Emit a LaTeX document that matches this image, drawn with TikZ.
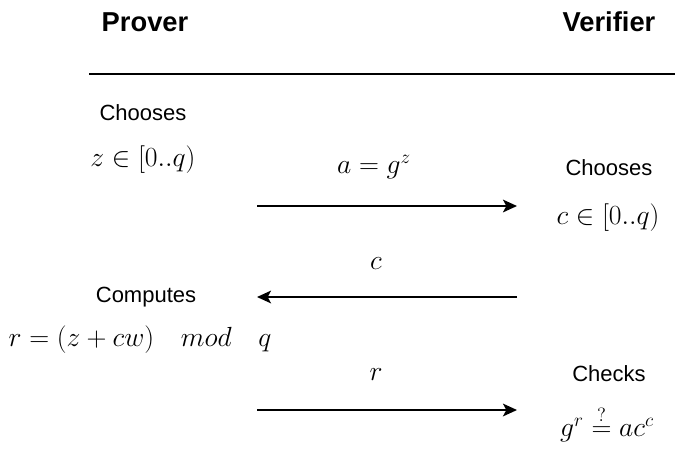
\documentclass[tikz,border=0pt]{standalone}
\usepackage{amsmath, amssymb}
\usepackage{fontspec}
\usepackage{tikz}
\usetikzlibrary{arrows.meta, positioning, calc}
\newfontfamily\arial{Liberation Sans}

\begin{document}
\begin{tikzpicture}[
  x=0.75pt, y=-0.75pt,
  every node/.style={inner sep=0pt},
  party/.style={font=\arial\bfseries\fontsize{20.5}{24}\selectfont},
  act/.style={font=\arial\fontsize{16.5}{20}\selectfont},
  expr/.style={font=\fontsize{20}{24}\selectfont},
  msg/.style={-{Stealth[length=10.5pt, width=9.5pt, inset=2.5pt]}, line width=1.5pt},
  rule/.style={line width=1.5pt}
]
  \useasboundingbox (0,0) rectangle (675,451);

  % Intestazioni
  \node[party] (prover) at (145,22) {Prover};
  \node[party] (verifier) at (609,22) {Verifier};
  \coordinate (ruleL) at (89,74);
  \coordinate (ruleR) at (675,74);
  \draw[rule] (ruleL) -- (ruleR);

  % Lato prover
  \node[act] (choosesP) at (143,113) {Chooses};
  \node[expr] (zpick) at (143,160) {$z \in [0..q)$};
  \node[act] (computes) at (146,297) {Computes};
  \node[expr] (resp) at (140,340) {$r = (z + cw) \quad mod \quad q$};

  % Lato verifier
  \node[act] (choosesV) at (609,168) {Chooses};
  \node[expr] (cpick) at (608,218) {$c \in [0..q)$};
  \node[act] (checks) at (609,374) {Checks};
  \node[expr] (test) at (607,424) {$g^r \stackrel{?}{=} ac^c$};

  % Messaggi
  \coordinate (m1L) at (257,206);
  \coordinate (m1R) at (517,206);
  \coordinate (m2L) at (257,297);
  \coordinate (m2R) at (517,297);
  \coordinate (m3L) at (257,410);
  \coordinate (m3R) at (517,410);
  \node[expr] (commit) at (374,167) {$a = g^z$};
  \node[expr] (chal) at (376,264) {$c$};
  \node[expr] (ans) at (376,375) {$r$};
  \draw[msg] (m1L) -- (m1R);
  \draw[msg] (m2R) -- (m2L);
  \draw[msg] (m3L) -- (m3R);

\end{tikzpicture}
\end{document}
